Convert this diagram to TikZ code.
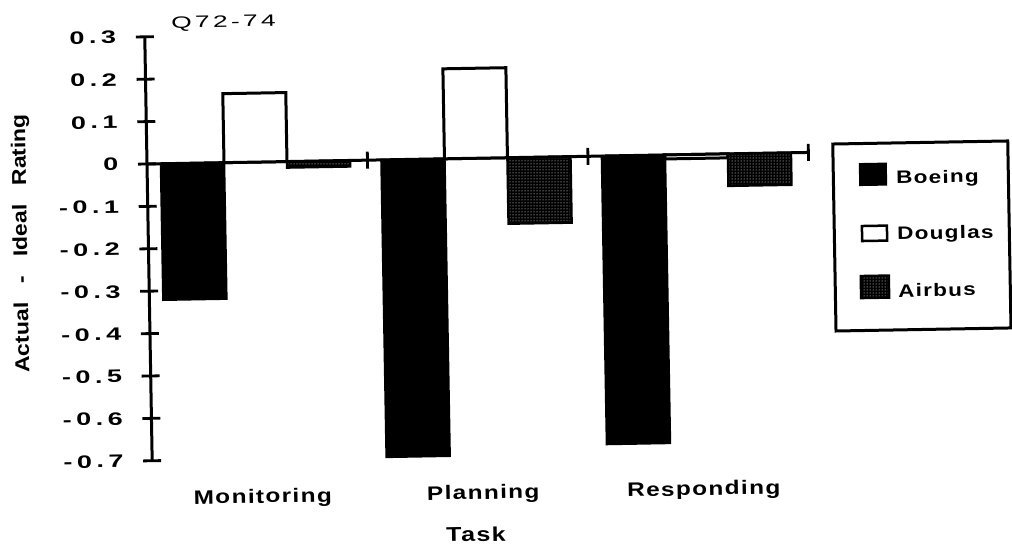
\documentclass[tikz,border=0pt]{standalone}
\usepackage{fontspec}
\setmainfont{Liberation Sans}
\usetikzlibrary{patterns}
\newfontfamily\tickfont[FakeStretch=1.5, LetterSpace=25]{Liberation Sans}
\newfontfamily\qfont[FakeStretch=1.6, LetterSpace=20]{Liberation Sans}
\newfontfamily\catfont[FakeStretch=1.25, LetterSpace=7]{Liberation Sans}
\newfontfamily\legfont[FakeStretch=1.25, LetterSpace=7]{Liberation Sans}
\newfontfamily\titfont[FakeStretch=1.15]{Liberation Sans}
\tikzset{
  axisline/.style={line width=3pt},
  tickline/.style={line width=2.8pt},
  boeingbar/.style={fill=black, draw=black, line width=2.5pt},
  douglasbar/.style={fill=white, draw=black, line width=3pt},
  airbusbar/.style={preaction={fill=black}, pattern=dots, pattern color=white, draw=black, line width=2.5pt},
  ticklabel/.style={anchor=east, inner sep=0pt, font=\tickfont\bfseries\fontsize{18}{21}\selectfont},
  catlabel/.style={anchor=base, inner sep=0pt, font=\catfont\bfseries\fontsize{19.5}{22}\selectfont},
  leglabel/.style={anchor=base west, inner sep=0pt, font=\legfont\bfseries\fontsize{18}{21}\selectfont},
}
\begin{document}
\begin{tikzpicture}[x=1pt,y=-1pt]
\useasboundingbox[fill=white] (0,0) rectangle (1012,548);
\begin{scope}[rotate around={1:(147,164)}, transform shape]
  % axes
  \draw[axisline] (147,36.8) -- (147,460.8);
  \draw[axisline] (147,164) -- (808.5,164);
  \foreach \v/\t [count=\i] in {0.3/0.3,0.2/0.2,0.1/0.1,0/0,-0.1/-0.1,-0.2/-0.2,-0.3/-0.3,-0.4/-0.4,-0.5/-0.5,-0.6/-0.6,-0.7/-0.7}{
    \draw[tickline] (138,{164-424*\v}) -- (156,{164-424*\v});
    \node[ticklabel] (yl\i) at (118.5,{164-424*\v}) {\t};
  }
  \foreach \g in {1,2,3}{
    \draw[tickline] ({147+220.5*\g},155.5) -- ({147+220.5*\g},172.5);
  }
  % bars: group g, bar k, height h (px, up positive)
  \foreach \g/\k/\h in {0/0/-136,1/0/-297,2/0/-288}{
    \draw[boeingbar] ({161+220.5*\g+63*\k},164) rectangle ({224+220.5*\g+63*\k},{164-\h});
  }
  \foreach \g/\k/\h in {0/1/69,1/1/90,2/1/-4}{
    \draw[douglasbar] ({161+220.5*\g+63*\k},164) rectangle ({224+220.5*\g+63*\k},{164-\h});
  }
  \foreach \g/\k/\h in {0/2/-6,1/2/-66,2/2/-32}{
    \draw[airbusbar] ({161+220.5*\g+63*\k},164) rectangle ({224+220.5*\g+63*\k},{164-\h});
  }
  % texts
  \node[anchor=base, inner sep=0pt, font=\qfont\fontsize{16.5}{19}\selectfont] (q) at (226,28.5) {Q72-74};
  \node[rotate=90, inner sep=0pt, font=\titfont\bfseries\fontsize{20}{23}\selectfont] (ytitle) at (20.6,241.3) {Actual\hspace{19pt}-\hspace{19pt}Ideal\hspace{19pt}Rating};
  \node[catlabel] (mon) at (257,505) {Monitoring};
  \node[catlabel] (pla) at (477.5,505) {Planning};
  \node[catlabel] (res) at (698,505) {Responding};
  \node[catlabel, font=\catfont\bfseries\fontsize{20}{23}\selectfont] (task) at (469.5,547) {Task};
  % legend
  \draw[line width=3pt] (833,156) rectangle (1008,343);
  \fill[black] (858.7,175.5) rectangle (886.7,198.5);
  \node[leglabel] (lb) at (895.7,197) {Boeing};
  \draw[fill=white, line width=2.5pt] (860.7,238.5) rectangle (885.7,253.5);
  \node[leglabel] (ld) at (895.7,252.8) {Douglas};
  \draw[airbusbar] (858.7,288.5) rectangle (886.7,310.5);
  \node[leglabel] (la) at (895.7,310.2) {Airbus};
\end{scope}
\end{tikzpicture}
\end{document}
